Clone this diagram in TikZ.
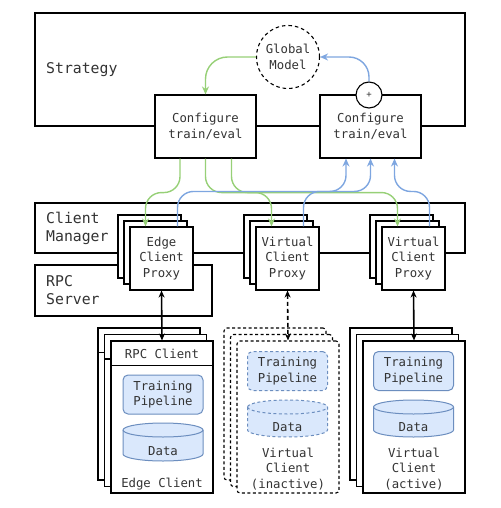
\documentclass[tikz,border=0pt]{standalone}
\usepackage{fontspec}
\setmonofont{DejaVu Sans Mono}
\usepackage{tikz}
\usetikzlibrary{arrows.meta}

\definecolor{ink}{HTML}{333333}
\definecolor{pushgreen}{HTML}{97D077}
\definecolor{pullblue}{HTML}{7EA6E0}
\definecolor{pipefill}{HTML}{DAE8FC}
\definecolor{pipeedge}{HTML}{6C8EBF}

% data store: options, centre x, top, bottom
\newcommand{\dbcyl}[4]{%
  \draw[cyl, #1] (#2-40,#3+7) -- (#2-40,#4-7)
    arc[start angle=180, end angle=0, x radius=40, y radius=7]
    -- (#2+40,#3+7)
    arc[start angle=0, end angle=-180, x radius=40, y radius=7] -- cycle;
  \draw[cyl, fill=none, #1] (#2-40,#3+7)
    arc[start angle=180, end angle=0, x radius=40, y radius=7];
}

\begin{document}
\begin{tikzpicture}[x=1pt, y=-1pt,
  txt/.style={font=\fontsize{12.3}{15.5}\selectfont\ttfamily, text=ink, align=center},
  big/.style={font=\fontsize{14.8}{18}\selectfont\ttfamily, text=ink, align=left, anchor=west, inner sep=0},
  box/.style={txt, draw, line width=1.1pt, fill=white, inner sep=0},
  conf/.style={box, minimum width=101pt, minimum height=63pt},
  proxy/.style={box, minimum width=63pt, minimum height=63pt},
  client/.style={box, minimum width=102pt, minimum height=152pt},
  ghost/.style={client, dash pattern=on 3pt off 2.5pt, rounded corners=3pt},
  pipe/.style={txt, draw=pipeedge, fill=pipefill, line width=1pt, rounded corners=5pt,
    minimum width=80pt, minimum height=39pt, inner sep=0},
  cyl/.style={draw=pipeedge, fill=pipefill, line width=1pt},
  link/.style={line width=1.6pt, {Stealth[length=7pt,width=6pt]}-{Stealth[length=7pt,width=6pt]}},
  upd/.style={line width=1.4pt, rounded corners=16pt, -{Stealth[length=8pt,width=7pt]}},
]
  \useasboundingbox (0,0) rectangle (500,508);

  % Strategy
  \node[box, minimum width=430pt, minimum height=113pt] (strat) at (250,69.5) {};
  \node[big] (stratlbl) at (46,70) {Strategy};
  \node[box, circle, minimum size=63pt, dash pattern=on 3.5pt off 3pt] (gm) at (288,57) {Global\\Model};
  \node[conf] (conf1) at (205.5,126.5) {Configure\\train/eval};
  \node[conf] (conf2) at (370.5,126.5) {Configure\\train/eval};
  \node[box, circle, minimum size=26pt, font=\fontsize{9}{9}\selectfont\ttfamily] (plus) at (369,95) {+};

  \draw[upd, pushgreen, rounded corners=22pt] (gm.west) -| (conf1.north);
  \draw[upd, pullblue, rounded corners=20pt] (plus.north) |- (gm.east);

  % Client Manager / RPC Server
  \node[box, minimum width=430pt, minimum height=50pt] (cm) at (250,228) {};
  \node[big] (cmlbl) at (46,228.5) {Client\\Manager};
  \node[box, minimum width=177pt, minimum height=51pt] (rpc) at (123.5,290.5) {};
  \node[big] (rpclbl) at (46,290.5) {RPC\\Server};

  % Proxies
  \node[proxy] (ep2) at (149.5,246.5) {};
  \node[proxy] (ep1) at (155.5,252.5) {};
  \node[proxy] (ep) at (161.5,258.5) {Edge\\Client\\Proxy};
  \node[proxy] (vp2) at (275.5,246.5) {};
  \node[proxy] (vp1) at (281.5,252.5) {};
  \node[proxy] (vp) at (287.5,258.5) {Virtual\\Client\\Proxy};
  \node[proxy] (ap2) at (401.5,246.5) {};
  \node[proxy] (ap1) at (407.5,252.5) {};
  \node[proxy] (ap) at (413.5,258.5) {Virtual\\Client\\Proxy};

  % configure -> clients
  \draw[upd, pushgreen] ([xshift=-25.5pt]conf1.south) -- ++(0,34) -| ([xshift=-16pt]ep.north);
  \draw[upd, pushgreen] (conf1.south) -- ++(0,34) -| ([xshift=-16pt]vp.north);
  \draw[upd, pushgreen] ([xshift=26pt]conf1.south) -- ++(0,34) -| ([xshift=-16pt]ap.north);

  % results -> aggregate
  \draw[upd, pullblue] ([xshift=16pt]ep.north) -- ++(0,-35) -| ([xshift=-24.5pt]conf2.south);
  \draw[upd, pullblue] ([xshift=16pt]vp.north) -- ++(0,-35) -| (conf2.south);
  \draw[upd, pullblue] ([xshift=16pt]ap.north) -- ++(0,-35) -| ([xshift=24pt]conf2.south);

  % Edge client
  \node[client] (ec2) at (149,404) {};
  \draw[line width=1.1pt] ([yshift=-25pt]ec2.north west) -- ([yshift=-25pt]ec2.north east);
  \node[client] (ec1) at (155.5,410.5) {};
  \draw[line width=1.1pt] ([yshift=-25pt]ec1.north west) -- ([yshift=-25pt]ec1.north east);
  \node[client] (ec) at (162,417) {};
  \draw[line width=1.1pt] ([yshift=-25pt]ec.north west) -- ([yshift=-25pt]ec.north east);
  \node[txt] (eclbl) at (162,353.5) {RPC Client};
  \node[pipe] (ecpipe) at (163,394.5) {Training\\Pipeline};
  \dbcyl{}{163}{423}{461}
  \node[txt] (ecdata) at (163,451) {Data};
  \node[txt] (ecname) at (162,484) {Edge Client};

  % Virtual client (inactive)
  \node[ghost] (vc2) at (275,404) {};
  \node[ghost] (vc1) at (281.5,410.5) {};
  \node[ghost] (vc) at (288,417) {};
  \node[pipe, dash pattern=on 3pt off 2.5pt] (vcpipe) at (287.5,371) {Training\\Pipeline};
  \dbcyl{dash pattern=on 3pt off 2.5pt}{287.5}{400}{437}
  \node[txt] (vcdata) at (287.5,427.5) {Data};
  \node[txt] (vcname) at (288,469) {Virtual\\Client\\(inactive)};

  % Virtual client (active)
  \node[client] (ac2) at (401,404) {};
  \node[client] (ac1) at (407.5,410.5) {};
  \node[client] (ac) at (414,417) {};
  \node[pipe] (acpipe) at (413.5,371) {Training\\Pipeline};
  \dbcyl{}{413.5}{400}{437}
  \node[txt] (acdata) at (413.5,427.5) {Data};
  \node[txt] (acname) at (414,469) {Virtual\\Client\\(active)};

  % proxy <-> client
  \draw[link] (ep.south) -- (ec.north);
  \draw[link, dash pattern=on 4pt off 3pt] (vp.south) -- (vc.north);
  \draw[link] (ap.south) -- (ac.north);
\end{tikzpicture}
\end{document}
